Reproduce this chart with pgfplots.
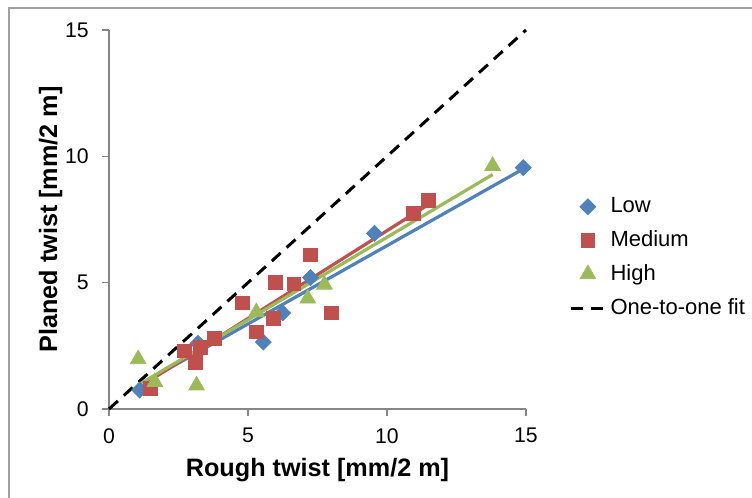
\documentclass[border=0pt]{standalone}
\usepackage{pgfplots}
\pgfplotsset{compat=1.18}
\usepackage{fontspec}
\setmainfont{Liberation Sans}
\definecolor{lowc}{HTML}{4F81BD}
\definecolor{medc}{HTML}{C0504D}
\definecolor{highc}{HTML}{9BBB59}
\definecolor{axisgray}{HTML}{868686}
\definecolor{framegray}{HTML}{A0A0A0}
\begin{document}
\begin{tikzpicture}
% picture 752x498 px at 0.5pt per px, axis origin at px (109,409)
\useasboundingbox (-54.5pt,-44.5pt) rectangle (321.5pt,204.5pt);
\fill[white] (-54.5pt,-44.5pt) rectangle (321.5pt,204.5pt);
\draw[framegray, line width=0.75pt] (-50pt,-44.5pt) -- (-50pt,200.5pt) -- (321.5pt,200.5pt);
\begin{axis}[
  scale only axis,
  width=208.5pt, height=189.5pt,
  xmin=0, xmax=15, ymin=0, ymax=15,
  xtick={0,5,10,15}, ytick={0,5,10,15},
  axis lines=left,
  axis line style={axisgray, line width=0.6pt, -},
  tick style={axisgray, line width=0.6pt},
  tick align=outside,
  major tick length=3.5pt,
  /pgf/number format/assume math mode=true,
  tick label style={font=\fontsize{10.6}{12}\selectfont, inner sep=0pt},
  xticklabel style={anchor=north},
  yticklabel style={anchor=east},
  xticklabel shift=6pt,
  yticklabel shift=6.5pt,
  xlabel={\textbf{Rough twist [mm/2 m]}},
  ylabel={\textbf{Planed twist [mm/2 m]}},
  label style={font=\fontsize{12.6}{14}\selectfont},
  xlabel style={at={(axis description cs:0.5,-0.1794)}, anchor=base},
  ylabel style={at={(axis description cs:-0.1247,0.5)}, anchor=base},
  clip=false,
  legend cell align=left,
  legend style={at={(axis cs:16.33,5.99)}, anchor=west, draw=none, fill=none,
    font=\fontsize{11}{13}\selectfont, row sep=3.5pt},
]
\addplot[only marks, mark=square*, mark size=2.8pt,
  mark options={rotate=45, fill=lowc, draw=lowc}] coordinates {
  (1.1,0.75) (3.2,2.6) (5.55,2.65) (6.25,3.8) (7.25,5.2) (9.55,6.95) (14.9,9.55)
};
\addlegendentry{Low}
\addplot[only marks, mark=square*, mark size=3.45pt,
  mark options={fill=medc, draw=medc}] coordinates {
  (1.5,0.8) (2.7,2.3) (3.1,1.85) (3.3,2.45) (3.8,2.8) (4.8,4.2) (5.3,3.05)
  (5.9,3.6) (6.0,5.0) (6.65,4.95) (7.25,6.1) (8.0,3.8) (10.95,7.75) (11.5,8.25)
};
\addlegendentry{Medium}
\addplot[only marks, mark=triangle*, mark size=4.5pt,
  mark options={fill=highc, draw=highc}] coordinates {
  (1.05,1.97) (1.65,1.07) (3.15,0.93) (5.3,3.83) (7.15,4.37) (7.75,4.92) (13.8,9.62)
};
\addlegendentry{High}
\addplot[black, line width=1.5pt, dash pattern=on 6pt off 4pt] coordinates {
  (0,0) (15,15)
};
\addlegendentry{One-to-one fit}
% linear trend lines
\addplot[forget plot, lowc, line width=1.6pt] coordinates {(1.1,0.95) (14.9,9.5)};
\addplot[forget plot, medc, line width=1.6pt] coordinates {(1.5,1.15) (11.5,8.1)};
\addplot[forget plot, highc, line width=1.6pt] coordinates {(1.05,0.95) (13.8,9.28)};
\end{axis}
\end{tikzpicture}
\end{document}
